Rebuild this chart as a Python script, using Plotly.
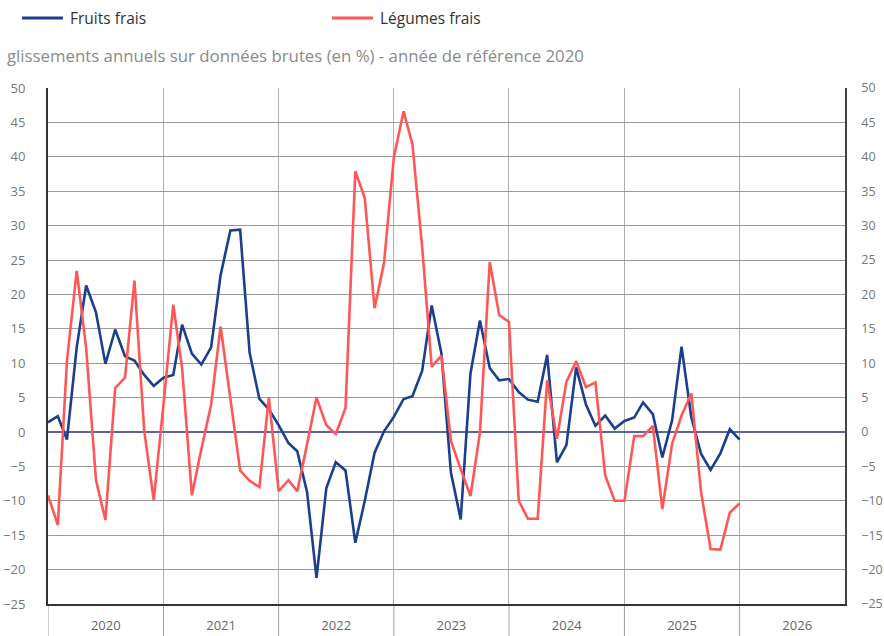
import plotly.graph_objects as go
import pandas as pd

months = pd.date_range("2020-01-01", "2026-01-01", freq="MS").strftime("%Y-%m-%d").tolist()
year_starts = [f"{y}-01-01" for y in range(2020, 2027)]

fruits = [
    1.4, 2.3, -1.1, 12.3, 21.3, 17.4, 9.9, 14.9, 11.0, 10.4, 8.3, 6.7,
    7.9, 8.3, 15.6, 11.4, 9.8, 12.3, 22.8, 29.3, 29.4, 11.5, 4.8, 3.3,
    1.0, -1.6, -2.8, -8.7, -21.2, -8.2, -4.4, -5.6, -16.1, -10.0, -3.0, 0.1,
    2.2, 4.8, 5.2, 8.9, 18.4, 11.4, -5.9, -12.7, 8.5, 16.2, 9.3, 7.5,
    7.7, 5.8, 4.7, 4.4, 11.2, -4.4, -1.9, 9.4, 4.0, 0.9, 2.4, 0.5,
    1.6, 2.1, 4.3, 2.6, -3.7, 1.7, 12.4, 2.1, -3.2, -5.5, -3.1, 0.4,
    -1.1,
]
legumes = [
    -9.2, -13.5, 10.3, 23.4, 12.2, -7.0, -12.8, 6.4, 7.9, 22.0, 0.2, -9.9,
    4.0, 18.5, 9.3, -9.2, -2.5, 4.0, 15.3, 4.7, -5.6, -7.1, -8.0, 5.0,
    -8.6, -7.0, -8.6, -1.8, 5.0, 1.0, -0.3, 3.5, 37.9, 34.0, 18.0, 24.6,
    39.9, 46.6, 41.8, 26.8, 9.5, 11.1, -1.3, -5.4, -9.3, -0.1, 24.7, 17.0,
    16.0, -10.0, -12.6, -12.6, 7.5, -1.0, 7.3, 10.3, 6.5, 7.2, -6.3, -10.0,
    -10.0, -0.6, -0.6, 0.9, -11.2, -1.7, 2.4, 5.6, -8.8, -17.0, -17.1, -11.7,
    -10.4,
]

series_names = ["Fruits frais", "Légumes frais"]
series_colors = ["#1a3f8c", "#ff5757"]
subtitle = "glissements annuels sur données brutes (en %) - année de référence 2020"
y_ticks = list(range(-25, 51, 5))

W, H = 884, 636
PL, PR, PT, PB = 48, 845, 88, 604  # plot box in pixels
ML, MR, MT, MB = PL, W - PR, PT, H - PB
PW = W - ML - MR
PH = H - MT - MB


def px_x(p):
    return (p - PL) / PW


def px_y(p):
    return 1 - (p - PT) / PH


fig = go.Figure()
for name, vals, col in zip(series_names, [fruits, legumes], series_colors):
    fig.add_trace(go.Scatter(x=months, y=vals, name=name, mode="lines",
                             line=dict(color=col, width=2.6)))
# helper to show right-side axis
fig.add_trace(go.Scatter(x=months[:1], y=[None], yaxis="y2", showlegend=False,
                         hoverinfo="skip", mode="lines"))

shapes = []
annotations = []
# year separators extending below the plot
for ys in year_starts:
    shapes.append(dict(type="line", xref="x", yref="paper", x0=ys, x1=ys,
                       y0=0, y1=px_y(H), line=dict(color="#a0a0a0", width=1),
                       layer="below"))
# manual legend
legend_x = [22, 332]
for lx, name, col in zip(legend_x, series_names, series_colors):
    shapes.append(dict(type="line", xref="paper", yref="paper",
                       x0=px_x(lx), x1=px_x(lx + 41), y0=px_y(18), y1=px_y(18),
                       line=dict(color=col, width=3)))
    annotations.append(dict(text=name, xref="paper", yref="paper",
                            x=px_x(lx + 46), y=px_y(18), xanchor="left",
                            yanchor="middle", showarrow=False,
                            font=dict(size=15.5, color="#333")))
annotations.append(dict(text=subtitle, xref="paper", yref="paper",
                        x=px_x(5), y=px_y(56), xanchor="left", yanchor="middle",
                        showarrow=False, font=dict(size=16.8, color="#8a8a8a")))

fig.update_layout(
    width=W, height=H,
    margin=dict(l=ML, r=MR, t=MT, b=MB, pad=0),
    paper_bgcolor="white", plot_bgcolor="white",
    font=dict(family="Open Sans", color="#333"),
    showlegend=False,
    xaxis=dict(type="date", range=["2020-01-01", "2026-12-01"],
               dtick="M12", tick0="2020-01-01", tickformat="%Y",
               ticklabelmode="period", automargin=False,
               showgrid=True, gridcolor="#b0b0b0", gridwidth=1,
               ticks="", ticklabelstandoff=8,
               showline=True, linecolor="#333", linewidth=2,
               tickfont=dict(size=13, color="#666"),
               mirror=False, zeroline=False),
    yaxis=dict(range=[-25, 50], tickvals=y_ticks, showgrid=True,
               gridcolor="#9a9a9a", gridwidth=1.3, automargin=False,
               zeroline=True, zerolinecolor="#5f62a8", zerolinewidth=1.5,
               showline=True, linecolor="#333", linewidth=2,
               ticks="", ticklabelstandoff=18,
               tickfont=dict(size=13, color="#777")),
    yaxis2=dict(range=[-25, 50], tickvals=y_ticks, overlaying="y", side="right",
                showgrid=False, zeroline=False, showline=True, automargin=False,
                linecolor="#444", linewidth=1.5, ticks="",
                ticklabelstandoff=12,
                tickfont=dict(size=12.5, color="#777")),
    shapes=shapes,
    annotations=annotations,
)

fig.write_html("out.html",
               config={"displayModeBar": False},
               post_script="document.body.style.margin='0';"
                           "document.body.style.overflow='hidden';")
